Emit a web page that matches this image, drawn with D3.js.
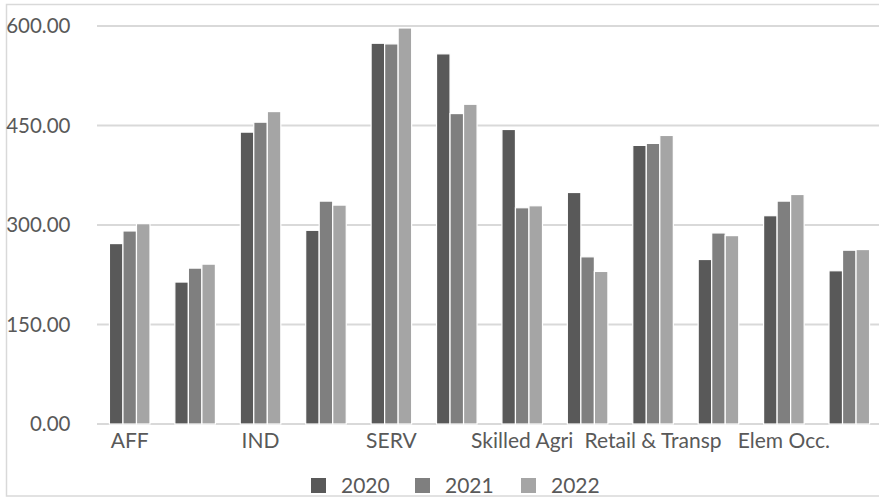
<!DOCTYPE html>
<html>
<head>
<meta charset="utf-8">
<script src="https://cdn.jsdelivr.net/npm/d3@7"></script>
<style>
  html, body { margin: 0; padding: 0; background: #fff; }
  svg { display: block; }
  text { font-family: Lato, "Open Sans", sans-serif; fill: #595959; }
</style>
</head>
<body>
<svg id="chart" width="879" height="499"></svg>
<script>
const categories = ["AFF", "", "IND", "", "SERV", "", "Skilled Agri", "", "Retail & Transp", "", "Elem Occ.", ""];
const series = ["2020", "2021", "2022"];
const values2020 = [272, 214, 440, 292, 574, 558, 444, 349, 420, 248, 314, 231];
const values2021 = [291, 235, 455, 336, 573, 468, 326, 252, 423, 288, 336, 262];
const values2022 = [302, 241, 471, 330, 597, 482, 329, 230, 435, 284, 346, 263];
const yTicks = [0, 150, 300, 450, 600];
const colors = ["#595959", "#7f7f7f", "#a5a5a5"];

const seriesValues = [values2020, values2021, values2022];
const rows = categories.map((c, i) => ({ idx: i, label: c, vals: seriesValues.map(s => s[i]) }));

const svg = d3.select("#chart");
const W = 879, H = 499;

// outer chart border
svg.append("rect")
  .attr("x", 6.5).attr("y", 4.5)
  .attr("width", 890).attr("height", 491.5)
  .attr("fill", "none").attr("stroke", "#d9d9d9").attr("stroke-width", 1.5);

const x0 = d3.scaleBand()
  .domain(d3.range(categories.length))
  .range([97, 882])
  .paddingInner(0.38)
  .paddingOuter(0.19);

const x1 = d3.scaleBand()
  .domain(series)
  .range([0, x0.bandwidth()])
  .padding(0);

const y = d3.scaleLinear().domain([0, 600]).range([424, 26]);

// gridlines
svg.append("g").selectAll("line")
  .data(yTicks)
  .join("line")
  .attr("x1", 97).attr("x2", W)
  .attr("y1", d => y(d)).attr("y2", d => y(d))
  .attr("stroke", "#d9d9d9").attr("stroke-width", 2);

// y labels
svg.append("g").selectAll("text")
  .data(yTicks)
  .join("text")
  .attr("x", 70.5)
  .attr("y", d => y(d))
  .attr("dy", "0.36em")
  .attr("text-anchor", "end")
  .style("font-size", "20.5px")
  .text(d => d3.format(".2f")(d));

// bars
const groups = svg.append("g").selectAll("g")
  .data(rows)
  .join("g")
  .attr("transform", d => `translate(${x0(d.idx)},0)`);

groups.selectAll("rect")
  .data(d => d.vals.map((v, k) => ({ key: series[k], v, k })))
  .join("rect")
  .attr("x", d => x1(d.key))
  .attr("width", x1.bandwidth())
  .attr("y", d => y(d.v))
  .attr("height", d => y(0) - y(d.v))
  .attr("fill", d => colors[d.k])
  .attr("stroke", "#ffffff")
  .attr("stroke-width", 1.2);

// category labels
svg.append("g").selectAll("text")
  .data(rows.filter(r => r.label !== ""))
  .join("text")
  .attr("x", d => x0(d.idx) + x0.bandwidth() / 2)
  .attr("y", 447.5)
  .attr("text-anchor", "middle")
  .style("font-size", "21px")
  .text(d => d.label);

// legend
const legendX = [311, 415, 521];
const lg = svg.append("g").selectAll("g")
  .data(series)
  .join("g")
  .attr("transform", (d, i) => `translate(${legendX[i]},478)`);
lg.append("rect")
  .attr("width", 15).attr("height", 15)
  .attr("fill", (d, i) => colors[i]);
lg.append("text")
  .attr("x", 30).attr("y", 14.5)
  .style("font-size", "21px")
  .text(d => d);
</script>
</body>
</html>
